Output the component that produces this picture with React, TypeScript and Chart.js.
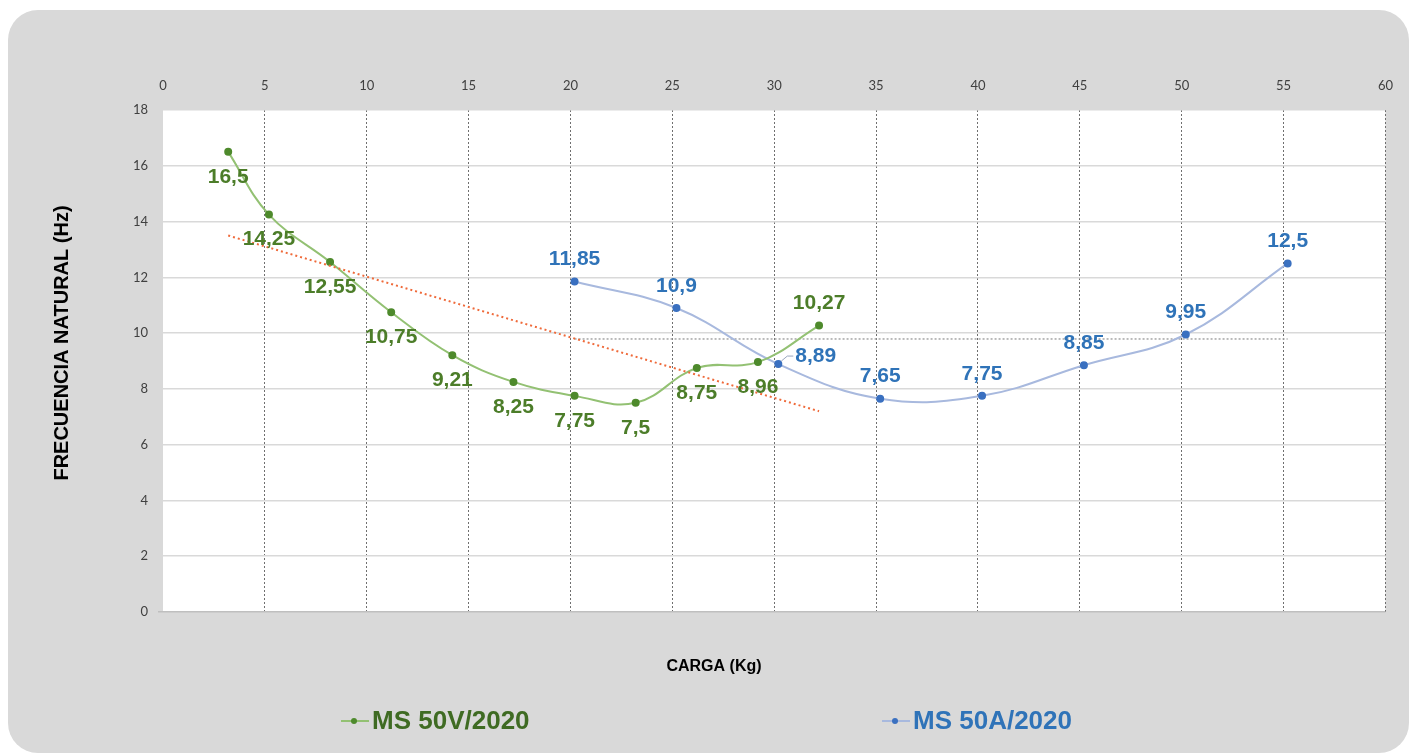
import React, { useEffect, useRef } from "react";
import { Chart, registerables } from "chart.js";

Chart.register(...registerables);

// ---- data ----
const serieVName = "MS 50V/2020";
const serieAName = "MS 50A/2020";
const cargaV = [3.2, 5.2, 8.2, 11.2, 14.2, 17.2, 20.2, 23.2, 26.2, 29.2, 32.2];
const frecV = [16.5, 14.25, 12.55, 10.75, 9.21, 8.25, 7.75, 7.5, 8.75, 8.96, 10.27];
const cargaA = [20.2, 25.2, 30.2, 35.2, 40.2, 45.2, 50.2, 55.2];
const frecA = [11.85, 10.9, 8.89, 7.65, 7.75, 8.85, 9.95, 12.5];
const trendX = [3.2, 32.2];
const trendY = [13.5, 7.2];
const meanX = [20.2, 55.2];
const meanY = [9.79, 9.79];
const labelPosV = ["below", "below", "below", "below", "below", "below", "below", "below", "below", "below", "above"];
const labelPosA = ["above", "above", "right", "above", "above", "above", "above", "above"];
const xTitle = "CARGA (Kg)";
const yTitle = "FRECUENCIA NATURAL (Hz)";

const GREEN_LINE = "#93c173";
const GREEN_PT = "#4e8a2c";
const GREEN_TXT = "#4c7d29";
const GREEN_LEG = "#3f6b23";
const BLUE_LINE = "#a8b9de";
const BLUE_PT = "#3a70c0";
const BLUE_TXT = "#2f73b8";

const pts = (xs: number[], ys: number[]) => xs.map((x, i) => ({ x, y: ys[i] }));
const fmt = (v: number) => String(v).replace(".", ",");

const decorPlugin = {
  id: "decor",
  beforeDraw(chart: any) {
    const { ctx, chartArea: a } = chart;
    ctx.save();
    ctx.fillStyle = "#ffffff";
    ctx.fillRect(a.left, a.top, a.right - a.left, a.bottom - a.top);
    ctx.restore();
  },
  afterDatasetsDraw(chart: any) {
    const { ctx } = chart;
    const groups = [
      { idx: 0, vals: frecV, pos: labelPosV, color: GREEN_TXT },
      { idx: 1, vals: frecA, pos: labelPosA, color: BLUE_TXT },
    ];
    ctx.save();
    ctx.font = "bold 21px 'Liberation Sans', Arial, sans-serif";
    ctx.textBaseline = "middle";
    for (const g of groups) {
      const meta = chart.getDatasetMeta(g.idx);
      meta.data.forEach((el: any, j: number) => {
        const p = g.pos[j];
        const t = fmt(g.vals[j]);
        ctx.fillStyle = g.color;
        if (p === "below") {
          ctx.textAlign = "center";
          ctx.fillText(t, el.x, el.y + 25);
        } else if (p === "above") {
          ctx.textAlign = "center";
          ctx.fillText(t, el.x, el.y - 22);
        } else {
          ctx.strokeStyle = "#9aa6bf";
          ctx.lineWidth = 1;
          ctx.beginPath();
          ctx.moveTo(el.x + 3, el.y - 3);
          ctx.lineTo(el.x + 9, el.y - 8);
          ctx.lineTo(el.x + 15, el.y - 8);
          ctx.stroke();
          ctx.textAlign = "left";
          ctx.fillText(t, el.x + 17, el.y - 8);
        }
      });
    }
    ctx.restore();
  },
  afterDraw(chart: any) {
    const { ctx } = chart;
    ctx.save();
    ctx.fillStyle = "#000000";
    ctx.font = "bold 16px 'Liberation Sans', Arial, sans-serif";
    ctx.textAlign = "center";
    ctx.textBaseline = "middle";
    ctx.fillText(xTitle, 706, 657);
    ctx.save();
    ctx.translate(54, 333);
    ctx.rotate(-Math.PI / 2);
    ctx.font = "bold 20px 'Liberation Sans', Arial, sans-serif";
    ctx.fillText(yTitle, 0, 0);
    ctx.restore();

    // legend
    const items = [
      { x: 333, name: chart.data.datasets[0].label, line: GREEN_LINE, pt: GREEN_PT, txt: GREEN_LEG },
      { x: 874, name: chart.data.datasets[1].label, line: BLUE_LINE, pt: BLUE_PT, txt: BLUE_TXT },
    ];
    const ly = 711;
    for (const it of items) {
      ctx.strokeStyle = it.line;
      ctx.lineWidth = 2;
      ctx.beginPath();
      ctx.moveTo(it.x, ly);
      ctx.lineTo(it.x + 28, ly);
      ctx.stroke();
      ctx.fillStyle = it.pt;
      ctx.beginPath();
      ctx.arc(it.x + 13, ly, 3, 0, Math.PI * 2);
      ctx.fill();
      ctx.fillStyle = it.txt;
      ctx.font = "bold 26px 'Liberation Sans', Arial, sans-serif";
      ctx.textAlign = "left";
      ctx.textBaseline = "middle";
      ctx.fillText(it.name, it.x + 31, ly + 1);
    }
    ctx.restore();
  },
};

export default function App() {
  const ref = useRef<HTMLCanvasElement | null>(null);
  useEffect(() => {
    if (!ref.current) return;
    const chart = new Chart(ref.current, {
      type: "line",
      data: {
        datasets: [
          {
            label: serieVName,
            data: pts(cargaV, frecV),
            borderColor: GREEN_LINE,
            backgroundColor: GREEN_PT,
            pointBackgroundColor: GREEN_PT,
            pointBorderColor: GREEN_PT,
            pointRadius: 3,
            borderWidth: 2,
            tension: 0.4,
            fill: false,
            order: 2,
          },
          {
            label: serieAName,
            data: pts(cargaA, frecA),
            borderColor: BLUE_LINE,
            backgroundColor: BLUE_PT,
            pointBackgroundColor: BLUE_PT,
            pointBorderColor: BLUE_PT,
            pointRadius: 3,
            borderWidth: 2,
            tension: 0.4,
            fill: false,
            order: 2,
          },
          {
            label: "Lineal (" + serieVName + ")",
            data: pts(trendX, trendY),
            borderColor: "#ef6a3a",
            borderWidth: 2,
            borderDash: [2, 3],
            pointRadius: 0,
            tension: 0,
            fill: false,
            order: 1,
          },
          {
            label: "Media (" + serieAName + ")",
            data: pts(meanX, meanY),
            borderColor: "#a6a6a6",
            borderWidth: 1.5,
            borderDash: [2, 2],
            pointRadius: 0,
            tension: 0,
            fill: false,
            order: 3,
          },
        ],
      },
      options: {
        animation: false,
        responsive: false,
        maintainAspectRatio: false,
        layout: { padding: { top: 0, left: 0, right: 19, bottom: 141 } },
        plugins: { legend: { display: false }, tooltip: { enabled: false } },
        scales: {
          x: {
            type: "linear",
            position: "top",
            min: 0,
            max: 60,
            ticks: {
              stepSize: 5,
              padding: 16,
              color: "#404040",
              font: { family: "Lato, 'Open Sans', sans-serif", size: 13 },
            },
            grid: {
              color: (c: any) => (c.tick && c.tick.value === 0 ? "rgba(0,0,0,0)" : "#6f6f6f"),
              lineWidth: 1,
              drawTicks: false,
            },
            border: { display: false, dash: [2, 2] },
            afterFit: (s: any) => {
              s.height = 100;
            },
          },
          y: {
            type: "linear",
            min: 0,
            max: 18,
            ticks: {
              stepSize: 2,
              padding: 10,
              color: "#404040",
              font: { family: "Lato, 'Open Sans', sans-serif", size: 13 },
            },
            grid: {
              color: (c: any) => (c.tick && c.tick.value === 0 ? "#bfbfbf" : "#d9d9d9"),
              lineWidth: 1.5,
              drawTicks: true,
              tickLength: 5,
            },
            border: { display: false },
            afterFit: (s: any) => {
              s.width = 155;
            },
          },
        },
      },
      plugins: [decorPlugin],
    } as any);
    return () => chart.destroy();
  }, []);

  return (
    <div
      style={{
        position: "fixed",
        left: 8,
        top: 10,
        width: 1401,
        height: 743,
        background: "#d9d9d9",
        borderRadius: 30,
        overflow: "hidden",
      }}
    >
      <canvas ref={ref} width={1401} height={743} style={{ display: "block", width: 1401, height: 743 }} />
    </div>
  );
}
